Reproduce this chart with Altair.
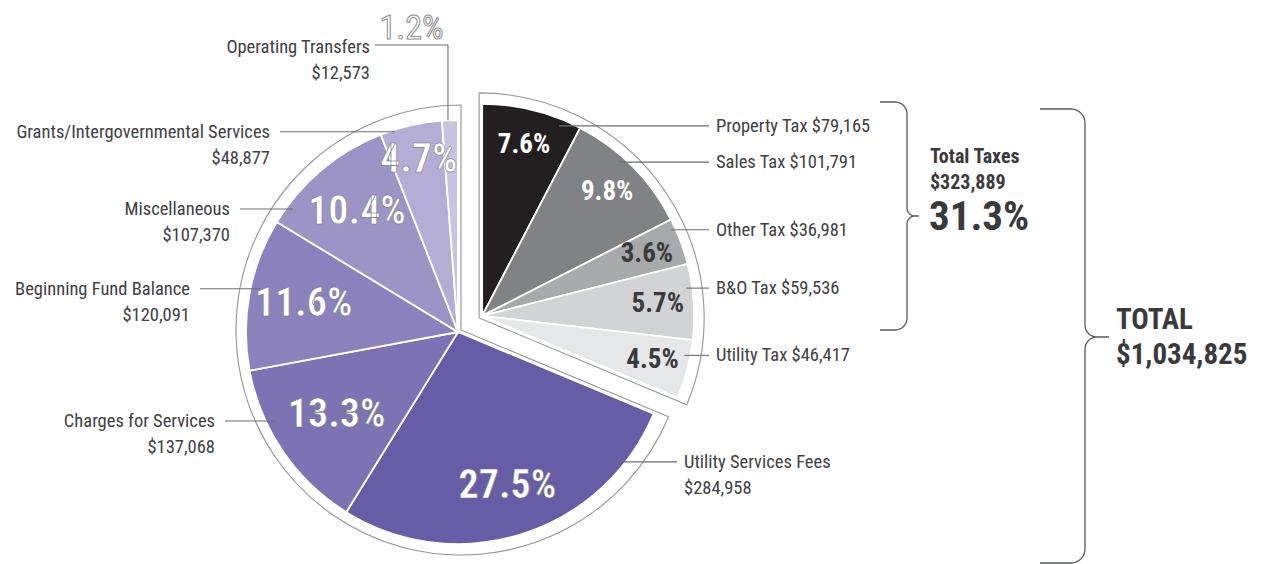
import math
import altair as alt
import pandas as pd

# ---------------- data ----------------
CATEGORIES = ["Property Tax", "Sales Tax", "Other Tax", "B&O Tax", "Utility Tax",
              "Utility Services Fees", "Charges for Services", "Beginning Fund Balance",
              "Miscellaneous", "Grants/Intergovernmental Services", "Operating Transfers"]
VALUES = [79165, 101791, 36981, 59536, 46417, 284958, 137068, 120091, 107370, 48877, 12573]
PERCENT_LABELS = ["7.6%", "9.8%", "3.6%", "5.7%", "4.5%",
                  "27.5%", "13.3%", "11.6%", "10.4%", "4.7%", "1.2%"]
GROUPS = ["Taxes"] * 5 + ["Other"] * 6
TAX_TITLE = "Total Taxes"
TAX_TOTAL = "$323,889"
TAX_SHARE = "31.3%"
GRAND_TITLE = "TOTAL"
GRAND_TOTAL = "$1,034,825"

# ---------------- styles / layout ----------------
COLORS = ["#231f20", "#808285", "#a7a9ac", "#d1d3d4", "#e6e7e8",
          "#675ca6", "#7d72b4", "#8b81bd", "#9c93c7", "#b4add6", "#c9c3e2"]
PCT_STYLE = {"Property Tax": "light", "Sales Tax": "light", "Other Tax": "dark",
             "B&O Tax": "dark", "Utility Tax": "dark"}   # others: outlined
FONT = "Roboto Condensed, Roboto, Liberation Sans, sans-serif"
TEXT_COLOR = "#414042"
LINE_COLOR = "#6d6e71"
LABEL_SIZE = 18.5
W, H, M = 1245, 556, 8
CENTER = (458.0, 332.0)
RADIUS = 212
EXPLODE = 29
RING_R = 225
RING_GAP = 3
PCT_R = {"Taxes": 176, "Other": 157}
PCT_R_SPECIAL = {"Utility Services Fees": 162, "Charges for Services": 147,
                 "Grants/Intergovernmental Services": 176}
PCT_SIZE = {"Taxes": 27, "Other": 40}
# leader: (fraction of slice angle, anchor radius, label x, side)
LEADERS = {
    "Property Tax": (0.80, 205, 716, "right"),
    "Sales Tax": (0.40, 206, 716, "right"),
    "Other Tax": (0.20, 208, 716, "right"),
    "B&O Tax": (0.31, 206, 716, "right"),
    "Utility Tax": (0.28, 206, 716, "right"),
    "Utility Services Fees": (0.17, 204, 684, "right"),
    "Charges for Services": (0.675, 203, 215, "left"),
    "Beginning Fund Balance": (0.546, 203, 190, "left"),
    "Miscellaneous": (0.145, 206, 230, "left"),
    "Grants/Intergovernmental Services": (0.23, 210, 270, "left"),
    "Operating Transfers": (0.38, 212, 370, "left"),
}
ELBOW_Y = 45
LINE_GAP = 7
VALUE_DY = 26

# ---------------- geometry derived from data ----------------
total = sum(VALUES)
starts, ends, acc = [], [], 0
for v in VALUES:
    starts.append(acc)
    acc += v
    ends.append(acc)


def ang(v):
    return 2 * math.pi * v / total


def polar(c, a, r):
    return (c[0] + r * math.sin(a), c[1] - r * math.cos(a))


tax_sum = sum(v for v, g in zip(VALUES, GROUPS) if g == "Taxes")
half = ang(tax_sum) / 2
ux, uy = math.sin(half), -math.cos(half)
centers = {"Other": CENTER,
           "Taxes": (CENTER[0] + EXPLODE * ux, CENTER[1] + EXPLODE * uy)}
shift = RING_GAP / math.sin(half)
ring_centers = {"Other": (CENTER[0] + shift * ux, CENTER[1] + shift * uy),
                "Taxes": (centers["Taxes"][0] - shift * ux, centers["Taxes"][1] - shift * uy)}

slice_df = pd.DataFrame({
    "category": CATEGORIES, "group": GROUPS, "start": starts, "end": ends,
    "cx": [centers[g][0] for g in GROUPS], "cy": [centers[g][1] for g in GROUPS],
})

ring_rows = []
for g in ["Taxes", "Other"]:
    gs = [s for s, gg in zip(starts, GROUPS) if gg == g]
    ge = [e for e, gg in zip(ends, GROUPS) if gg == g]
    ring_rows.append({"group": g, "start": min(gs), "end": max(ge),
                      "cx": ring_centers[g][0], "cy": ring_centers[g][1]})
ring_df = pd.DataFrame(ring_rows)

pct_rows, seg_rows, lab_rows, special_rows = [], [], [], []
for cat, val, pct, g, s, e in zip(CATEGORIES, VALUES, PERCENT_LABELS, GROUPS, starts, ends):
    c = centers[g]
    frac, ar, lx, side = LEADERS[cat]
    a_anchor = ang(s + frac * (e - s))
    axp, ayp = polar(c, a_anchor, ar)
    money = f"${val:,}"
    if cat == "Operating Transfers":
        lend = lx + 5
        seg_rows.append({"x": axp, "y": ayp, "x2": axp, "y2": ELBOW_Y})
        seg_rows.append({"x": axp, "y": ELBOW_Y, "x2": lend, "y2": ELBOW_Y})
        lab_rows += [{"text": cat, "x": lx, "y": ELBOW_Y + 2, "side": side},
                     {"text": money, "x": lx, "y": ELBOW_Y + 2 + VALUE_DY, "side": side}]
        special_rows.append({"text": pct, "x": (lend + axp) / 2, "y": ELBOW_Y - 16})
        continue
    lend = lx - LINE_GAP if side == "right" else lx + LINE_GAP + 3
    seg_rows.append({"x": axp, "y": ayp, "x2": lend, "y2": ayp})
    if g == "Taxes":
        lab_rows.append({"text": f"{cat} {money}", "x": lx, "y": ayp, "side": side})
    else:
        lab_rows += [{"text": cat, "x": lx, "y": ayp, "side": side},
                     {"text": money, "x": lx, "y": ayp + VALUE_DY, "side": side}]
    pr = PCT_R_SPECIAL.get(cat, PCT_R[g])
    px, py = polar(c, ang((s + e) / 2), pr)
    pct_rows.append({"pct": pct, "x": px, "y": py, "fs": PCT_SIZE[g],
                     "style": PCT_STYLE.get(cat, "outlined")})

pct_df = pd.DataFrame(pct_rows)
seg_df = pd.DataFrame(seg_rows)
lab_df = pd.DataFrame(lab_rows)
special_df = pd.DataFrame(special_rows)

title_df = pd.DataFrame([
    {"text": TAX_TITLE, "x": 930, "y": 157, "fs": 20},
    {"text": TAX_TOTAL, "x": 930, "y": 183, "fs": 20},
    {"text": TAX_SHARE, "x": 929, "y": 218, "fs": 41},
    {"text": GRAND_TITLE, "x": 1116, "y": 320, "fs": 29},
    {"text": GRAND_TOTAL, "x": 1116, "y": 355, "fs": 29},
])


def brace(name, x0, xs, xt, yt, ym, yb, r, r2, n=10):
    pts = [(x0, yt)]
    for k in range(n + 1):
        t = -math.pi / 2 + (math.pi / 2) * k / n
        pts.append((xs - r + r * math.cos(t), yt + r + r * math.sin(t)))
    for k in range(n + 1):
        t = math.pi - (math.pi / 2) * k / n
        pts.append((xs + r2 + r2 * math.cos(t), ym - r2 + r2 * math.sin(t)))
    pts.append((xt, ym))
    for k in range(n + 1):
        t = 1.5 * math.pi - (math.pi / 2) * k / n
        pts.append((xs + r2 + r2 * math.cos(t), ym + r2 + r2 * math.sin(t)))
    for k in range(n + 1):
        t = (math.pi / 2) * k / n
        pts.append((xs - r + r * math.cos(t), yb - r + r * math.sin(t)))
    pts.append((x0, yb))
    return [{"brace": name, "i": i, "x": p[0], "y": p[1]} for i, p in enumerate(pts)]


brace_df = pd.DataFrame(brace("taxes", 880, 907, 919, 102, 216, 330, 12, 8)
                        + brace("total", 1040, 1085, 1109, 109, 337, 563, 14, 12))

# ---------------- chart ----------------
XS = alt.Scale(domain=[M, M + W], range=[0, W])
YS = alt.Scale(domain=[M, M + H], range=[0, H])
TS = alt.Scale(domain=[0, total], range=[0, 2 * math.pi])


def X(f):
    return alt.X(f, scale=XS, axis=None)


def Y(f):
    return alt.Y(f, scale=YS, axis=None)


rings = alt.Chart(ring_df).mark_arc(radius=RING_R, fill="white", stroke="#939598",
                                    strokeWidth=1.1).encode(
    theta=alt.Theta("start:Q", scale=TS, stack=None), theta2="end:Q",
    x=X("cx:Q"), y=Y("cy:Q"))

slices = alt.Chart(slice_df).mark_arc(radius=RADIUS, stroke="white", strokeWidth=1.8).encode(
    theta=alt.Theta("start:Q", scale=TS, stack=None), theta2="end:Q",
    x=X("cx:Q"), y=Y("cy:Q"),
    color=alt.Color("category:N", scale=alt.Scale(domain=CATEGORIES, range=COLORS), legend=None))

leaders = alt.Chart(seg_df).mark_rule(color=LINE_COLOR, strokeWidth=1.1).encode(
    x=X("x:Q"), y=Y("y:Q"), x2="x2:Q", y2="y2:Q")


def pct_layer(style, **kw):
    return alt.Chart(pct_df).transform_filter(alt.datum.style == style).mark_text(
        font=FONT, fontWeight="bold", align="center", baseline="middle", **kw).encode(
        x=X("x:Q"), y=Y("y:Q"), text="pct:N", size=alt.Size("fs:Q", scale=None))


pct_light = pct_layer("light", fill="white")
pct_dark = pct_layer("dark", fill="#3a3a3c")
pct_out = pct_layer("outlined", fill="white", stroke="#77787b", strokeWidth=0.6)

special = alt.Chart(special_df).mark_text(
    font=FONT, fontSize=34, align="center", baseline="middle",
    fill="white", stroke="#8a8c8f", strokeWidth=1.0).encode(
    x=X("x:Q"), y=Y("y:Q"), text="text:N")

labels_r = alt.Chart(lab_df).transform_filter(alt.datum.side == "right").mark_text(
    font=FONT, fontSize=LABEL_SIZE, align="left", baseline="middle", color=TEXT_COLOR).encode(
    x=X("x:Q"), y=Y("y:Q"), text="text:N")
labels_l = alt.Chart(lab_df).transform_filter(alt.datum.side == "left").mark_text(
    font=FONT, fontSize=LABEL_SIZE, align="right", baseline="middle", color=TEXT_COLOR).encode(
    x=X("x:Q"), y=Y("y:Q"), text="text:N")

titles = alt.Chart(title_df).mark_text(
    font=FONT, fontWeight="bold", align="left", baseline="middle", color="#3a3a3c").encode(
    x=X("x:Q"), y=Y("y:Q"), text="text:N", size=alt.Size("fs:Q", scale=None))

braces = alt.Chart(brace_df).mark_line(color="#58595b", strokeWidth=1.3).encode(
    x=X("x:Q"), y=Y("y:Q"), detail="brace:N", order="i:Q")

chart = alt.layer(
    rings, slices, leaders, pct_light, pct_dark, pct_out, special,
    labels_r, labels_l, titles, braces
).properties(
    width=W, height=H, padding=0, autosize=alt.AutoSizeParams(type="none")
).configure_view(stroke=None)

chart.save("out.html", embed_options={"renderer": "svg", "actions": False})
